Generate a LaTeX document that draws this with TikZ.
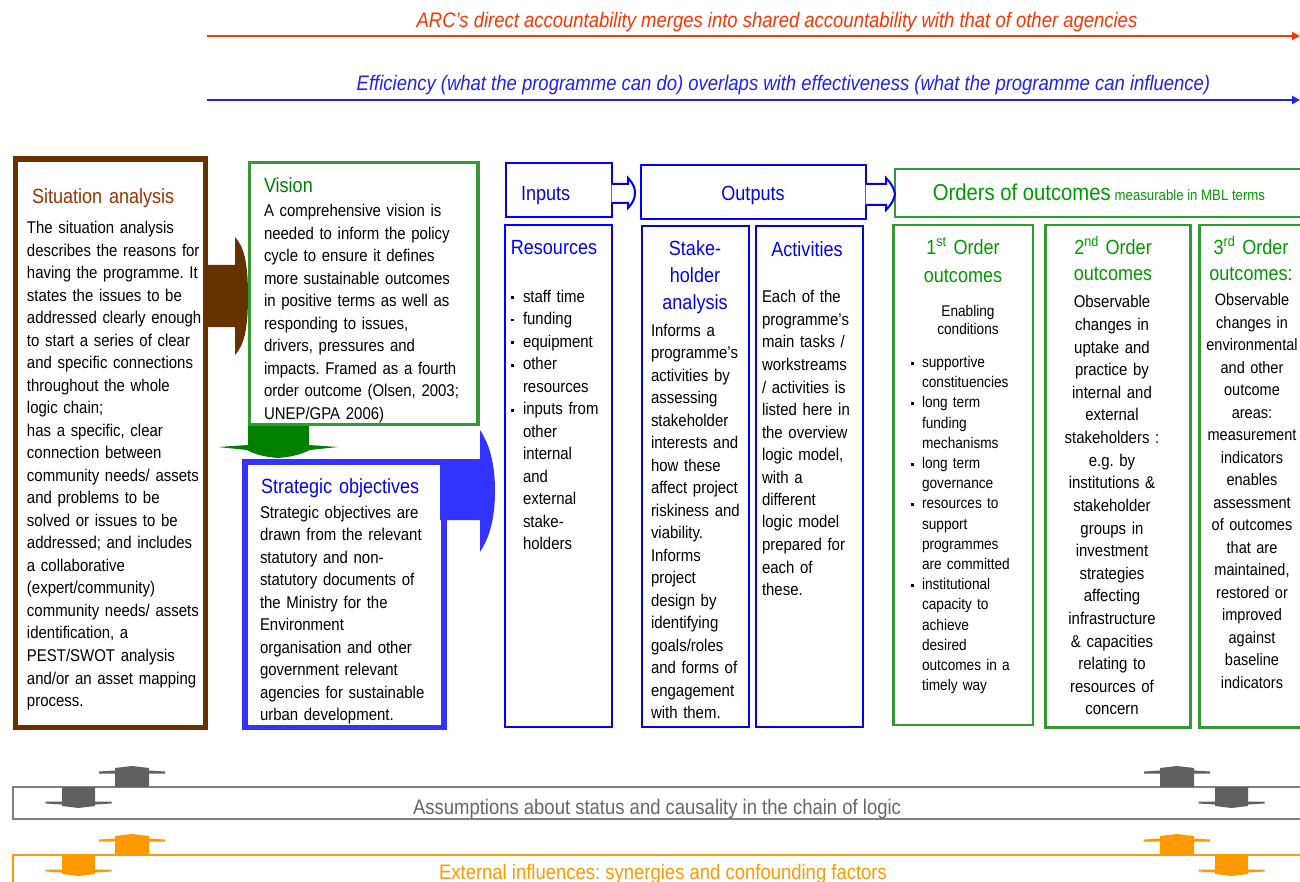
\documentclass[tikz,border=0pt]{standalone}
\usepackage{fontspec}
\setmainfont[FakeStretch=0.88]{Liberation Sans}
\usetikzlibrary{arrows.meta}
\definecolor{brownb}{HTML}{663300}
\definecolor{brownt}{HTML}{993300}
\definecolor{visg}{HTML}{339933}
\definecolor{darkg}{HTML}{008000}
\definecolor{stratb}{HTML}{3333FF}
\definecolor{pureb}{HTML}{0000FF}
\definecolor{outg}{HTML}{339933}
\definecolor{outt}{HTML}{009900}
\definecolor{redl}{HTML}{FF3300}
\definecolor{bluel}{HTML}{2020FF}
\definecolor{grayb}{HTML}{808080}
\definecolor{grayh}{HTML}{606060}
\definecolor{grayt}{HTML}{666666}
\definecolor{orng}{HTML}{FF9900}
\newcommand\mybul[1]{\makebox[#1][l]{\rule[3pt]{2.8pt}{2.8pt}}}
\newcommand\myind[1]{\hspace*{#1}}
\tikzset{
  box/.style={draw, inner sep=0pt, outer sep=0pt, anchor=north west},
  thinblue/.style={box, draw=pureb, line width=2pt},
  thingreen/.style={box, draw=outg, line width=2.5pt},
  txt/.style={inner sep=0pt, outer sep=0pt, anchor=base west, text width=320pt, align=left},
  ctxt/.style={inner sep=0pt, outer sep=0pt, anchor=base, align=center},
  fbody/.style={font=\fontsize{17}{22.5}\selectfont},
  ftitle/.style={font=\fontsize{20.5}{27}\selectfont},
  fbig/.style={font=\itshape\fontsize{21}{24}\selectfont},
  hatup/.pic={\path[pic actions] (-17,0) -- (-17,-13.5) -- (-33,-13.5) -- (-33,-15.5) -- (-17,-16.5) -- (-17,-19) -- (0,-21) -- (17,-19) -- (17,-16.5) -- (33,-15.5) -- (33,-13.5) -- (17,-13.5) -- (17,0) -- cycle;},
  hatdown/.pic={\path[pic actions] (-16.5,0) -- (-16.5,14.5) -- (-33,14.5) -- (-33,16.5) -- (-16.5,17.5) -- (-16.5,19) -- (0,21) -- (16.5,19) -- (16.5,17.5) -- (33,16.5) -- (33,14.5) -- (16.5,14.5) -- (16.5,0) -- cycle;}
}
\begin{document}
\frenchspacing
\begin{tikzpicture}[x=1pt,y=-1pt]
\useasboundingbox (0,0) rectangle (1300,882);
\clip (0,0) rectangle (1300,882);
\fill[white] (0,0) rectangle (1300,882);

% top arrows
\coordinate (r0) at (207,36);
\coordinate (r1) at (1300,36);
\draw[redl, line width=2pt, -{Triangle[length=8pt,width=8pt]}] (r0) -- (r1);
\node[ctxt, fbig, text=redl] (rtext) at (777,28) {ARC’s direct accountability merges into shared accountability with that of other agencies};
\coordinate (b0) at (207,100);
\coordinate (b1) at (1300,100);
\draw[bluel, line width=2pt, -{Triangle[length=8pt,width=8pt]}] (b0) -- (b1);
\node[ctxt, fbig, text=bluel] (btext) at (783.5,91) {Efficiency (what the programme can do) overlaps with effectiveness (what the programme can influence)};

% main boxes
\node[box, draw=brownb, line width=5.5pt, minimum width=190pt, minimum height=568.5pt] (sit) at (15.5,159) {};
\node[box, draw=visg, line width=3.5pt, minimum width=228.5pt, minimum height=262.2pt] (vis) at (249.5,162.5) {};
\node[box, draw=stratb, line width=5.5pt, minimum width=199pt, minimum height=265.5pt] (strat) at (245,462) {};

\node[thinblue, minimum width=106pt, minimum height=54pt] (inputs) at (505.5,163.5) {};
\node[thinblue, minimum width=224.5pt, minimum height=54pt] (outputs) at (641,165) {};
\node[thingreen, minimum width=415pt, minimum height=48pt] (orders) at (895,169) {};
\node[thinblue, minimum width=106.5pt, minimum height=502pt] (res) at (505,225) {};
\node[thinblue, minimum width=107.5pt, minimum height=500.5pt] (stake) at (641.5,226.5) {};
\node[thinblue, minimum width=107.6pt, minimum height=500.5pt] (act) at (755.7,226.5) {};
\node[thingreen, minimum width=139.5pt, minimum height=500pt] (first) at (893.5,225) {};
\node[thingreen, minimum width=145pt, minimum height=502.3pt] (second) at (1045.7,225) {};
\node[thingreen, minimum width=110.5pt, minimum height=502.3pt] (third) at (1199.5,225) {};

% block arrows
\fill[brownb] (207,265) -- (235,265) -- (235,237) .. controls (244,247) and (248,262) .. (248,296) .. controls (248,330) and (244,345) .. (235,355) -- (235,327) -- (207,327) -- cycle;
\fill[darkg] (248,426) -- (309,426) -- (309,445) -- (338,447) -- (310,450) .. controls (300,455) and (290,457) .. (278,458) .. controls (266,457) and (256,455) .. (247,450) -- (218,447) -- (248,445) -- cycle;
\fill[stratb] (440,459) -- (480,459) -- (480,430) .. controls (490,445) and (495,465) .. (495,491) .. controls (495,517) and (490,537) .. (480,552) -- (480,520) -- (440,520) -- cycle;
\draw[pureb, line width=2pt, fill=white] (inputs.east |- 0,184) -- (628,184) -- (628,178) .. controls (633,183) and (635,188) .. (635,193) .. controls (635,198) and (633,203) .. (628,208) -- (628,203) -- (inputs.east |- 0,203);
\draw[pureb, line width=2pt, fill=white] (outputs.east |- 0,184) -- (886,184) -- (886,178) .. controls (891,183) and (894,188) .. (895,194) .. controls (894,200) and (891,205) .. (886,210) -- (886,205) -- (outputs.east |- 0,205);

% texts: situation
\node[txt, ftitle, text=brownt] (sittitle) at (32,203.5) {Situation analysis};
\node[txt, fbody] (sittext) at (27,234) {The situation analysis\\describes the reasons for\\having the programme. It\\states the issues to be\\addressed clearly enough\\to start a series of clear\\and specific connections\\throughout the whole\\logic chain;\\has a specific, clear\\connection between\\community needs/ assets\\and problems to be\\solved or issues to be\\addressed; and includes\\a collaborative\\(expert/community)\\community needs/ assets\\identification, a\\PEST/SWOT analysis\\and/or an asset mapping\\process.};

% vision
\node[txt, ftitle, text=darkg] (vistitle) at (264,192.5) {Vision};
\node[txt, fbody] (vistext) at (264,217) {A comprehensive vision is\\needed to inform the policy\\cycle to ensure it defines\\more sustainable outcomes\\in positive terms as well as\\responding to issues,\\drivers, pressures and\\impacts. Framed as a fourth\\order outcome (Olsen, 2003;\\UNEP/GPA 2006)};

% strategic
\node[txt, ftitle, text=pureb] (strattitle) at (261,493.5) {Strategic objectives};
\node[txt, fbody] (strattext) at (260,518) {Strategic objectives are\\drawn from the relevant\\statutory and non-\\statutory documents of\\the Ministry for the\\Environment\\organisation and other\\government relevant\\agencies for sustainable\\urban development.};

% inputs / outputs / orders
\node[txt, ftitle, text=pureb] (inputstext) at (521,200.5) {Inputs};
\node[ctxt, ftitle, text=pureb] (outputstext) at (753,200.5) {Outputs};
\node[ctxt, text=outt] (orderstext) at (1099,200.5) {{\fontsize{23}{26}\selectfont Orders of outcomes}\hspace{4pt}{\fontsize{15}{18}\selectfont measurable in MBL terms}};

% resources
\node[ctxt, ftitle, text=pureb] (restitle) at (554,254.5) {Resources};
\node[txt, fbody] (restext) at (511,302) {\mybul{12pt}staff time\\\mybul{12pt}funding\\\mybul{12pt}equipment\\\mybul{12pt}other\\\myind{12pt}resources\\\mybul{12pt}inputs from\\\myind{12pt}other\\\myind{12pt}internal\\\myind{12pt}and\\\myind{12pt}external\\\myind{12pt}stake-\\\myind{12pt}holders};

% stakeholder analysis
\node[ctxt, ftitle, text=pureb, text width=100pt] (staketitle) at (695,255.5) {Stake-\\holder\\analysis};
\node[txt, fbody] (staketext) at (651,336) {Informs a\\programme’s\\activities by\\assessing\\stakeholder\\interests and\\how these\\affect project\\riskiness and\\viability.\\Informs\\project\\design by\\identifying\\goals/roles\\and forms of\\engagement\\with them.};

% activities
\node[ctxt, ftitle, text=pureb] (acttitle) at (807,256.5) {Activities};
\node[txt, fbody] (acttext) at (762,303) {Each of the\\programme’s\\main tasks /\\workstreams\\/ activities is\\listed here in\\the overview\\logic model,\\with a\\different\\logic model\\prepared for\\each of\\these.};

% first order
\node[ctxt, text=outt, font=\fontsize{20.5}{28}\selectfont, text width=130pt] (firsttitle) at (963,254.5) {1\textsuperscript{st} Order\\outcomes};
\node[ctxt, font=\fontsize{15.5}{18}\selectfont, text width=120pt] (firstsub) at (968,316.5) {Enabling\\conditions};
\node[txt, font=\fontsize{15.5}{20.2}\selectfont] (firsttext) at (911,367.5) {\mybul{11pt}supportive\\\myind{11pt}constituencies\\\mybul{11pt}long term\\\myind{11pt}funding\\\myind{11pt}mechanisms\\\mybul{11pt}long term\\\myind{11pt}governance\\\mybul{11pt}resources to\\\myind{11pt}support\\\myind{11pt}programmes\\\myind{11pt}are committed\\\mybul{11pt}institutional\\\myind{11pt}capacity to\\\myind{11pt}achieve\\\myind{11pt}desired\\\myind{11pt}outcomes in a\\\myind{11pt}timely way};

% second order
\node[ctxt, text=outt, font=\fontsize{20.5}{26}\selectfont, text width=140pt] (secondtitle) at (1113,254.5) {2\textsuperscript{nd} Order\\outcomes};
\node[ctxt, font=\fontsize{17}{22.6}\selectfont, text width=140pt] (secondtext) at (1112,308) {Observable\\changes in\\uptake and\\practice by\\internal and\\external\\stakeholders :\\e.g. by\\institutions \&\\stakeholder\\groups in\\investment\\strategies\\affecting\\infrastructure\\\& capacities\\relating to\\resources of\\concern};

% third order
\node[ctxt, text=outt, font=\fontsize{20.5}{26}\selectfont, text width=110pt] (thirdtitle) at (1251,254.5) {3\textsuperscript{rd} Order\\outcomes:};
\node[ctxt, font=\fontsize{16.5}{22.5}\selectfont, text width=110pt] (thirdtext) at (1252,305.5) {Observable\\changes in\\environmental\\and other\\outcome\\areas:\\measurement\\indicators\\enables\\assessment\\of outcomes\\that are\\maintained,\\restored or\\improved\\against\\baseline\\indicators};

% bottom bands
\node[box, draw=grayb, line width=2pt, minimum width=1297pt, minimum height=32pt] (assum) at (13,787) {};
\node[ctxt, text=grayt, font=\fontsize{21}{24}\selectfont] (assumtext) at (657,814) {Assumptions about status and causality in the chain of logic};
\node[box, draw=orng, line width=1.5pt, minimum width=1297pt, minimum height=45pt] (ext) at (13,855) {};
\node[ctxt, text=orng, font=\fontsize{21}{24}\selectfont] (exttext) at (663,879) {External influences: synergies and confounding factors};

\pic[fill=grayh] at (132,787) {hatup};
\pic[fill=grayh] at (78.5,787) {hatdown};
\pic[fill=grayh] at (1177,787) {hatup};
\pic[fill=grayh] at (1231.5,787) {hatdown};
\pic[fill=orng] at (132,855) {hatup};
\pic[fill=orng] at (78.5,855) {hatdown};
\pic[fill=orng] at (1177,855) {hatup};
\pic[fill=orng] at (1231.5,855) {hatdown};
\end{tikzpicture}
\end{document}
